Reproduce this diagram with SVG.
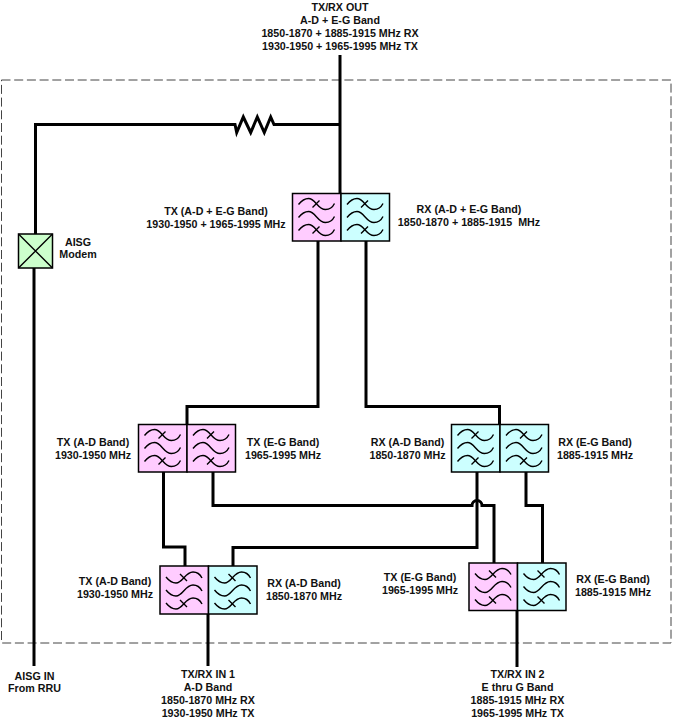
<svg xmlns="http://www.w3.org/2000/svg" width="674" height="721" viewBox="0 0 674 721">
<style>
text{font-family:"Liberation Sans",Arial,sans-serif;font-size:10.7px;font-weight:bold;fill:#111;text-anchor:middle;white-space:pre}
.w{fill:none;stroke:#000;stroke-width:3}
.box{stroke:#000;stroke-width:1.5}
.tx{fill:#FFCCFF}.rx{fill:#CCFFFF}
.f{fill:none;stroke:#000;stroke-width:1.4}
</style>
<defs>
<g id="waves">
<path class="f" d="M6,11C10,6 13,5 16,5C23,5 25,16 33,16C37,16 40,14 42,10"/>
<path class="f" d="M6,24C10,19 13,18 16,18C23,18 25,29 33,29C37,29 40,27 42,23"/>
<path class="f" d="M6,37C10,32 13,31 16,31C23,31 25,42 33,42C37,42 40,40 42,36"/>
<path class="f" d="M20,14L27,7M20,40L27,33"/>
</g>
</defs>
<rect x="1.500" y="80" width="669.500" height="563" fill="none" stroke="#444" stroke-width="1" stroke-dasharray="9 3.700"/>
<g id="connectors">
<path class="w" d="M340,55V193"/>
<path class="w" d="M340,124.500H274L270.700,117L264.300,132.500L257.300,117L250.700,132.500L243.300,117L236.700,132.500L235,124.500H35.500V234"/>
<path class="w" d="M34,268V666"/>
<path class="w" d="M318,241V406.500H187V424"/>
<path class="w" d="M366,241V406.500H499.500V424"/>
<path class="w" d="M163.500,472V547H185V566"/>
<path class="w" d="M213,472V505.500H472A5,5 0 0 1 482,505.500H494V563"/>
<path class="w" d="M477,472V547.500H233V566"/>
<path class="w" d="M526,472V505.500H542.500V563"/>
<path class="w" d="M208,614V666"/>
<path class="w" d="M517,610V667"/>
</g>
<g id="modem">
<rect class="box" x="18.500" y="234" width="34" height="34" fill="#CCFFCC"/>
<path class="f" d="M18.500,234L52.500,268M52.500,234L18.500,268"/>
</g>
<g id="filter-top">
<rect class="box tx" x="292.500" y="193.500" width="48.500" height="47.500"/>
<rect class="box rx" x="341" y="193.500" width="48.500" height="47.500"/>
<use href="#waves" x="292.500" y="193.500"/><use href="#waves" x="341" y="193.500"/>
</g>
<g id="filter-mid-tx">
<rect class="box tx" x="138.500" y="424.500" width="48.500" height="47.500"/>
<rect class="box tx" x="187" y="424.500" width="48.500" height="47.500"/>
<use href="#waves" x="138.500" y="424.500"/><use href="#waves" x="187" y="424.500"/>
</g>
<g id="filter-mid-rx">
<rect class="box rx" x="451.500" y="424.500" width="48.500" height="47.500"/>
<rect class="box rx" x="500" y="424.500" width="48.500" height="47.500"/>
<use href="#waves" x="451.500" y="424.500"/><use href="#waves" x="500" y="424.500"/>
</g>
<g id="filter-low-1">
<rect class="box tx" x="160" y="566" width="48.500" height="48"/>
<rect class="box rx" x="208.500" y="566" width="48.500" height="48"/>
<use href="#waves" transform="translate(160,614) scale(1,-1)"/><use href="#waves" transform="translate(208.500,614) scale(1,-1)"/>
</g>
<g id="filter-low-2">
<rect class="box tx" x="469" y="563" width="48.500" height="47.500"/>
<rect class="box rx" x="517.500" y="563" width="48.500" height="47.500"/>
<use href="#waves" transform="translate(469,610.500) scale(1,-1)"/><use href="#waves" transform="translate(517.500,610.500) scale(1,-1)"/>
</g>
<g id="labels">
<text x="340" y="11">TX/RX OUT</text>
<text x="340" y="24">A-D + E-G Band</text>
<text x="340" y="37">1850-1870 + 1885-1915 MHz RX</text>
<text x="340" y="50">1930-1950 + 1965-1995 MHz TX</text>
<text x="78" y="245.500">AISG</text>
<text x="78" y="258">Modem</text>
<text x="216" y="215">TX (A-D + E-G Band)</text>
<text x="216" y="228">1930-1950 + 1965-1995 MHz</text>
<text x="469" y="213">RX (A-D + E-G Band)</text>
<text x="469" y="226">1850-1870 + 1885-1915  MHz</text>
<text x="93" y="446">TX (A-D Band)</text>
<text x="93" y="458.500">1930-1950 MHz</text>
<text x="283" y="446">TX (E-G Band)</text>
<text x="283" y="458.500">1965-1995 MHz</text>
<text x="407.500" y="446">RX (A-D Band)</text>
<text x="407.500" y="458.500">1850-1870 MHz</text>
<text x="595" y="446">RX (E-G Band)</text>
<text x="595" y="458.500">1885-1915 MHz</text>
<text x="115" y="585">TX (A-D Band)</text>
<text x="115" y="598">1930-1950 MHz</text>
<text x="304" y="586.500">RX (A-D Band)</text>
<text x="304" y="599.500">1850-1870 MHz</text>
<text x="420" y="581">TX (E-G Band)</text>
<text x="420" y="594">1965-1995 MHz</text>
<text x="613" y="583">RX (E-G Band)</text>
<text x="613" y="596">1885-1915 MHz</text>
<text x="34.500" y="679.500">AISG IN</text>
<text x="34.500" y="692">From RRU</text>
<text x="208" y="678">TX/RX IN 1</text>
<text x="208" y="691">A-D Band</text>
<text x="208" y="704">1850-1870 MHz RX</text>
<text x="208" y="717">1930-1950 MHz TX</text>
<text x="517.500" y="678">TX/RX IN 2</text>
<text x="517.500" y="691">E thru G Band</text>
<text x="517.500" y="703.500">1885-1915 MHz RX</text>
<text x="517.500" y="716.500">1965-1995 MHz TX</text>
</g>
</svg>
